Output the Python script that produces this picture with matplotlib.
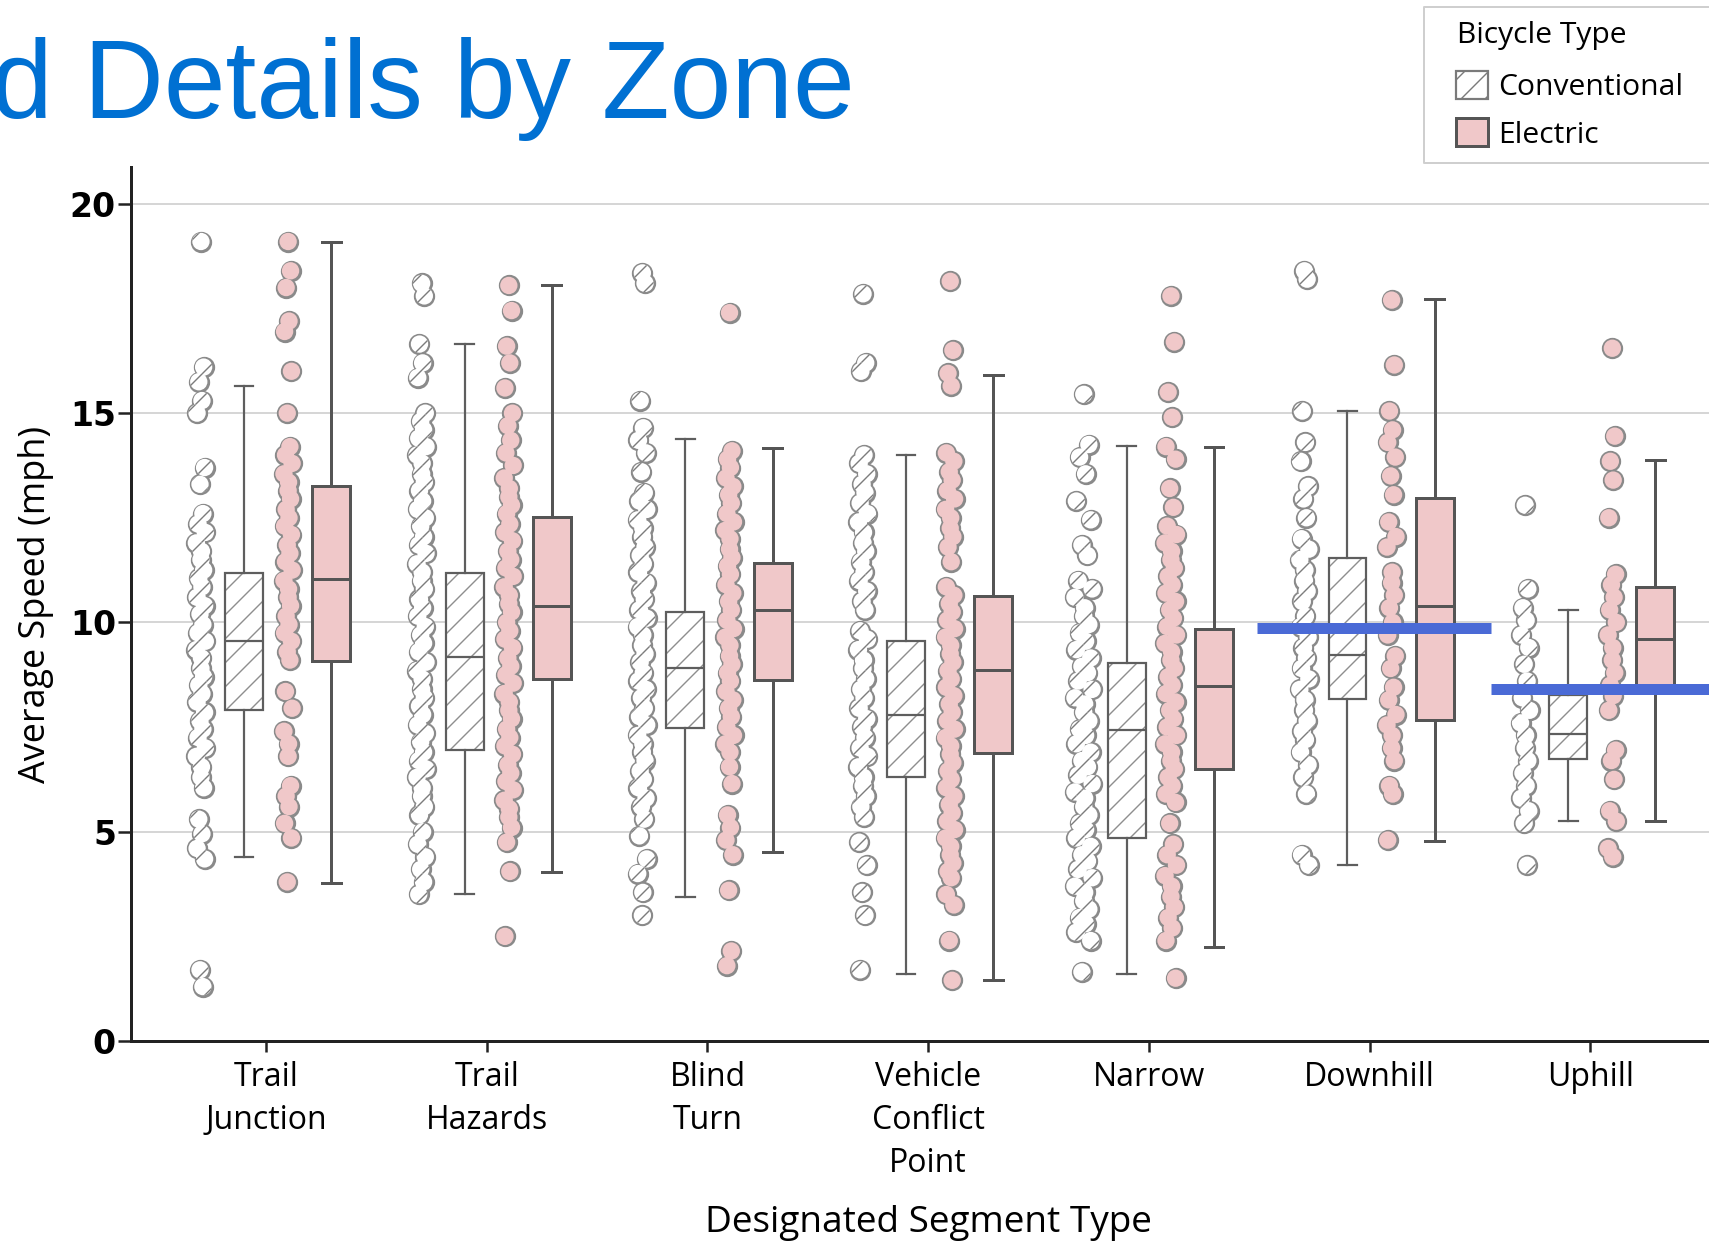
import matplotlib
matplotlib.use('Agg')
import matplotlib.pyplot as plt
from matplotlib.patches import Patch, Rectangle
import numpy as np

zones = ['Trail\nJunction', 'Trail\nHazards', 'Blind\nTurn', 'Vehicle\nConflict\nPoint',
         'Narrow', 'Downhill', 'Uphill']

# box summaries per zone: lower whisker, q1, median, q3, upper whisker
conv_low = [4.4, 3.5, 3.45, 1.6, 1.6, 4.2, 5.25]
conv_q1 = [7.9, 6.95, 7.48, 6.31, 4.84, 8.17, 6.73]
conv_med = [9.56, 9.17, 8.92, 7.79, 7.43, 9.23, 7.33]
conv_q3 = [11.18, 11.18, 10.25, 9.56, 9.04, 11.55, 8.27]
conv_high = [15.65, 16.65, 14.38, 14.0, 14.22, 15.06, 10.3]

elec_low = [3.78, 4.04, 4.52, 1.46, 2.24, 4.78, 5.25]
elec_q1 = [9.08, 8.65, 8.63, 6.88, 6.51, 7.68, 8.4]
elec_med = [11.03, 10.4, 10.3, 8.86, 8.49, 10.39, 9.61]
elec_q3 = [13.26, 12.53, 11.42, 10.64, 9.84, 12.97, 10.84]
elec_high = [19.1, 18.05, 14.17, 15.9, 14.18, 17.72, 13.87]

# individual rides (mph)
tj_conv = [19.1, 16.1, 15.75, 15.3, 15.0, 13.7, 13.3,
           12.6, 12.35, 12.15, 11.9, 11.7, 11.5, 11.25, 11.05, 10.85, 10.6, 10.4, 10.2,
           9.95, 9.75, 9.55, 9.35, 9.15, 8.9, 8.7, 8.5, 8.3, 8.1, 7.85, 7.65, 7.45, 7.25,
           7.0, 6.8, 6.55, 6.3, 6.05, 5.3, 4.95, 4.6, 4.35, 1.7, 1.3]
tj_elec = [19.1, 18.4, 18.0, 17.2, 16.95, 16.0, 15.0,
           14.2, 14.0, 13.8, 13.55, 13.35, 13.15, 12.95, 12.7, 12.5, 12.3, 12.1, 11.85,
           11.65, 11.45, 11.25, 11.0, 10.8, 10.6, 10.4, 10.15, 9.95, 9.75, 9.55, 9.3, 9.1,
           8.35, 7.95, 7.4, 7.1, 6.8, 6.1, 5.85, 5.6, 5.2, 4.85, 3.8]
th_conv = [18.1, 17.8, 16.65, 16.2, 15.85,
           15.0, 14.8, 14.6, 14.4, 14.2, 14.0, 13.8, 13.55, 13.35, 13.15, 12.9, 12.7, 12.5,
           12.3, 12.05, 11.85, 11.65, 11.4, 11.2, 11.0, 10.8, 10.55, 10.35, 10.15, 9.9, 9.7,
           9.5, 9.3, 9.05, 8.85, 8.65, 8.4, 8.2, 8.0, 7.8, 7.55, 7.35, 7.15, 6.9, 6.7, 6.5,
           6.3, 6.05, 5.85, 5.6, 5.4, 5.0, 4.7, 4.4, 4.1, 3.8, 3.5]
th_elec = [18.05, 17.45, 16.6, 16.2, 15.6, 15.0, 14.7, 14.35, 14.05, 13.75, 13.45,
           13.2, 13.0, 12.8, 12.6, 12.35, 12.15, 11.95, 11.7, 11.5, 11.3, 11.1, 10.85,
           10.65, 10.45, 10.25, 10.0, 9.8, 9.6, 9.4, 9.15, 8.95, 8.75, 8.55, 8.3, 8.1, 7.9,
           7.7, 7.45, 7.25, 7.05, 6.85, 6.6, 6.4, 6.2, 6.0, 5.75, 5.55, 5.35, 5.1,
           4.75, 4.05, 2.5]
bt_conv = [18.35, 18.1, 15.3, 14.65, 14.35, 14.05, 13.6,
           13.1, 12.9, 12.7, 12.45, 12.25, 12.05, 11.8, 11.6, 11.4, 11.2, 10.95, 10.75,
           10.55, 10.3, 10.1, 9.9, 9.7, 9.45, 9.25, 9.05, 8.8, 8.6, 8.4, 8.2, 7.95, 7.75,
           7.55, 7.3, 7.1, 6.9, 6.7, 6.45, 6.25, 6.05, 5.8,
           5.6, 5.3, 4.9, 4.35, 4.0, 3.55, 3.0]
bt_elec = [17.4,
           14.1, 13.9, 13.7, 13.45, 13.25, 13.05, 12.85, 12.6, 12.4, 12.2, 12.0, 11.75,
           11.55, 11.35, 11.15, 10.9, 10.7, 10.5, 10.3, 10.05, 9.85, 9.65, 9.45, 9.2, 9.0,
           8.8, 8.6, 8.35, 8.15, 7.95, 7.75, 7.5, 7.3, 7.1, 6.9,
           6.55, 6.15, 5.4, 5.1, 4.8, 4.45, 3.6, 2.15, 1.8]
vc_conv = [17.85, 16.2, 16.0,
           14.0, 13.8, 13.55, 13.3, 13.1, 12.85, 12.6, 12.4, 12.15, 11.9, 11.7, 11.45,
           11.2, 11.0, 10.75, 10.5, 10.3,
           9.8, 9.6, 9.35, 9.1, 8.9, 8.65, 8.4, 8.2, 7.95, 7.7, 7.5, 7.25, 7.0, 6.8, 6.55,
           6.3, 6.1, 5.85, 5.6, 5.35, 4.75, 4.2, 3.55, 3.0, 1.7]
vc_elec = [18.15, 16.5, 15.95, 15.65,
           14.05, 13.85, 13.6, 13.4, 13.15, 12.95, 12.7, 12.5, 12.25, 12.05, 11.8, 11.45,
           10.85, 10.65, 10.45, 10.25, 10.05, 9.85, 9.65, 9.45, 9.25, 9.05, 8.85, 8.65,
           8.45, 8.25, 8.05, 7.85, 7.65, 7.45, 7.25, 7.05, 6.85, 6.65, 6.45, 6.25, 6.05,
           5.85, 5.65, 5.45, 5.25, 5.05, 4.85, 4.65, 4.45, 4.25, 4.05, 3.9,
           3.5, 3.25, 2.4, 1.45]
nr_conv = [15.45, 14.25, 13.95, 13.55, 12.9, 12.45, 11.85, 11.6,
           11.0, 10.8, 10.6, 10.35, 10.15, 9.95, 9.75, 9.55, 9.35, 9.15, 8.95, 8.8, 8.6,
           8.4, 8.2, 8.05, 7.85, 7.65, 7.45, 7.3, 7.1, 6.9, 6.7, 6.55, 6.35, 6.15, 5.95,
           5.8, 5.6, 5.4, 5.2, 5.05, 4.85, 4.65, 4.45, 4.3, 4.1, 3.9, 3.7, 3.55, 3.35, 3.15,
           2.95, 2.8, 2.6, 2.4, 1.65]
nr_elec = [17.8, 16.7, 15.5, 14.9, 14.2, 13.9, 13.2, 12.75,
           12.3, 12.1, 11.9, 11.7, 11.5, 11.3, 11.1, 10.9, 10.7, 10.5, 10.3, 10.1, 9.9,
           9.7, 9.5, 9.3, 9.1, 8.9, 8.7, 8.5, 8.3, 8.1, 7.9, 7.7, 7.5, 7.3, 7.1, 6.9, 6.7,
           6.5, 6.3, 6.1, 5.9, 5.7, 5.2, 4.7, 4.45, 4.2, 3.95, 3.7, 3.45, 3.2, 2.95, 2.7,
           2.4, 1.5]
dh_conv = [18.4, 18.2, 15.05, 14.3, 13.85, 13.25, 12.95, 12.5,
           12.0, 11.75, 11.5, 11.25, 11.0, 10.75, 10.5,
           10.15, 9.9, 9.65, 9.4, 9.15, 8.9, 8.65, 8.4, 8.15, 7.9, 7.65, 7.4, 7.2,
           6.9, 6.6, 6.3, 5.9, 4.45, 4.2]
dh_elec = [17.7, 16.15, 15.05, 14.6, 14.3, 13.95, 13.5, 13.05, 12.4, 12.05, 11.8, 11.2,
           10.95, 10.65, 10.35, 10.0, 9.7, 9.2, 8.9, 8.45, 8.15, 7.8, 7.55, 7.3, 7.0, 6.7,
           6.1, 5.9, 4.8]
up_conv = [12.8, 10.8, 10.35, 10.05, 9.7, 9.4, 9.0, 8.6, 8.2, 7.9, 7.6, 7.3, 7.0, 6.7,
           6.4, 6.1, 5.8, 5.5, 5.2, 4.2]
up_elec = [16.55, 14.45, 13.85, 13.4, 12.5, 11.15, 10.9, 10.6, 10.3, 10.0, 9.7, 9.4, 9.1,
           8.8, 8.5, 8.25, 7.9, 6.95, 6.7, 6.25, 5.5, 5.25, 4.6, 4.4]

conv_points = [tj_conv, th_conv, bt_conv, vc_conv, nr_conv, dh_conv, up_conv]
elec_points = [tj_elec, th_elec, bt_elec, vc_elec, nr_elec, dh_elec, up_elec]

# target speeds marked on the two slope zones
target_zone = [5, 6]
target_speed = [9.86, 8.4]

PINK = '#f0c8c9'
BLUE = '#4a6ad6'
DOT_EDGE = '#8a8a8a'
plt.rcParams['hatch.color'] = '#7c7c7c'
plt.rcParams['hatch.linewidth'] = 1.4

W, H = 1709, 1242
fig = plt.figure(figsize=(W / 72, H / 72), dpi=72)
ax = fig.add_axes([131 / W, 201 / H, 1 - 131 / W, 874 / H])

# small fixed side-to-side offsets so stacked dots stay visible
wobble = np.array([0.0, 0.55, -0.45, 0.2, -0.8, 0.75, -0.2, 0.4, -0.6, 0.9, -0.95, 0.1])
conv_jit = [0.022, 0.022, 0.022, 0.022, 0.042, 0.022, 0.022]
elec_jit = [0.02, 0.022, 0.02, 0.022, 0.028, 0.022, 0.02]


def strip(vals, center, jit, face, hatch=None):
    vals = np.asarray(vals)
    x = center + wobble[np.arange(len(vals)) % len(wobble)] * jit
    # outlines first, fills on top, so touching dots merge into one shape
    ax.scatter(x, vals, s=300, facecolors=DOT_EDGE, edgecolors=DOT_EDGE,
               linewidths=4, zorder=3)
    ax.scatter(x, vals, s=300, facecolors=face, edgecolors='none', linewidths=0,
               hatch=hatch, zorder=3.2)


for i in range(len(zones)):
    strip(conv_points[i], i - 0.295, conv_jit[i], 'white', hatch='/')
    strip(elec_points[i], i + 0.1, elec_jit[i], PINK)

pos = np.arange(len(zones))
bw = 0.172


def stats(lo, q1, med, q3, hi):
    return [dict(whislo=a, q1=b, med=c, q3=d, whishi=e, fliers=[])
            for a, b, c, d, e in zip(lo, q1, med, q3, hi)]


# hatched fill for the conventional boxes sits under the outline
for i in range(len(zones)):
    ax.add_patch(Rectangle((pos[i] - 0.1 - bw / 2, conv_q1[i]), bw, conv_q3[i] - conv_q1[i],
                           facecolor='white', edgecolor='#8e8e8e', lw=0, hatch='/', zorder=3.5))

ax.bxp(stats(conv_low, conv_q1, conv_med, conv_q3, conv_high), positions=pos - 0.1,
       widths=bw, capwidths=0.085, patch_artist=True, showfliers=False, manage_ticks=False,
       boxprops=dict(facecolor='none', edgecolor='#5e5e5e', linewidth=2.2),
       whiskerprops=dict(color='#5e5e5e', linewidth=2.2),
       capprops=dict(color='#5e5e5e', linewidth=2.2),
       medianprops=dict(color='#5e5e5e', linewidth=2.2), zorder=4)
ax.bxp(stats(elec_low, elec_q1, elec_med, elec_q3, elec_high), positions=pos + 0.295,
       widths=bw, capwidths=0.085, patch_artist=True, showfliers=False, manage_ticks=False,
       boxprops=dict(facecolor=PINK, edgecolor='#555555', linewidth=3),
       whiskerprops=dict(color='#555555', linewidth=3),
       capprops=dict(color='#555555', linewidth=3),
       medianprops=dict(color='#555555', linewidth=3), zorder=4)

ax.plot([target_zone[0] - 0.51, target_zone[0] + 0.55], [target_speed[0]] * 2,
        color=BLUE, lw=11, solid_capstyle='butt', zorder=6)
ax.plot([target_zone[1] - 0.45, target_zone[1] + 0.7], [target_speed[1]] * 2,
        color=BLUE, lw=11, solid_capstyle='butt', zorder=6)

ax.set_xlim(-0.612, 6.538)
ax.set_ylim(0, 20.88)
ax.set_yticks([0, 5, 10, 15, 20])
ax.set_xticks(pos)
ax.set_xticklabels(zones, family='Open Sans', fontsize=32, linespacing=1.4)
for t in ax.get_yticklabels():
    t.set_family('DejaVu Sans')
    t.set_fontweight('bold')
    t.set_fontsize(33)
ax.tick_params(axis='y', length=13, width=2.5, color='#222222', pad=2)
ax.tick_params(axis='x', length=11, width=2.5, color='#222222', pad=9)

ax.yaxis.grid(True, color='#cdcdcd', lw=1.6)
ax.set_axisbelow(True)
for s in ['top', 'right']:
    ax.spines[s].set_visible(False)
for s in ['left', 'bottom']:
    ax.spines[s].set_linewidth(3)
    ax.spines[s].set_color('#222222')

ax.set_ylabel('Average Speed (mph)', family='Open Sans', fontsize=36)
ax.yaxis.set_label_coords(-0.0485, 0.5)
ax.set_xlabel('Designated Segment Type', family='Open Sans', fontsize=37)
ax.xaxis.set_label_coords(3.612 / 7.15, -0.188)

fig.text(-9 / W, 1 - 118 / H, 'd Details by Zone', fontsize=111, color='#0070d2',
         family='Liberation Sans', va='baseline', ha='left')

# legend: frame and title placed by hand, entries from fig.legend
fig.patches.append(Rectangle((1424 / W, 1 - 163 / H), 400 / W, 156 / H,
                             transform=fig.transFigure, facecolor='white',
                             edgecolor='#cfcfcf', lw=2, joinstyle='round', zorder=5))
fig.text(1457 / W, 1 - 43 / H, 'Bicycle Type', family='Open Sans', fontsize=30,
         va='baseline', ha='left', zorder=6)
handles = [Patch(facecolor='white', edgecolor='#7a7a7a', hatch='/', linewidth=2.2,
                 label='Conventional'),
           Patch(facecolor=PINK, edgecolor='#555555', linewidth=3, label='Electric')]
leg = fig.legend(handles=handles, loc='upper left', bbox_to_anchor=(1456 / W, 1 - 71 / H),
                 borderaxespad=0, borderpad=0, frameon=False,
                 prop=dict(family='Open Sans', size=30),
                 handlelength=1.07, handleheight=1.07, handletextpad=0.33,
                 labelspacing=0.53)
leg.set_zorder(7)

fig.savefig('out.png', dpi=72)
